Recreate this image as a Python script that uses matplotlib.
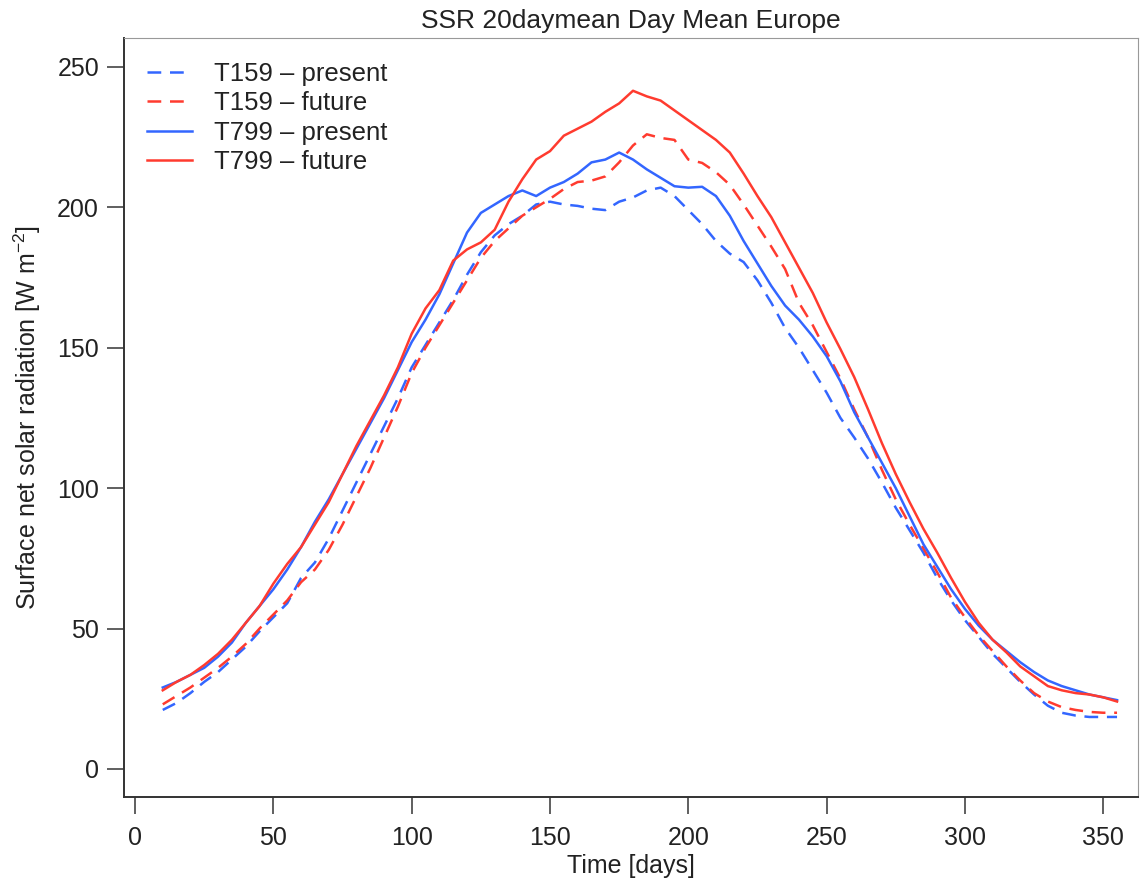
import numpy as np
import matplotlib
matplotlib.use('Agg')
import matplotlib.pyplot as plt

plt.rcParams['font.family'] = ['Liberation Sans', 'DejaVu Sans']
plt.rcParams['mathtext.default'] = 'regular'

days = np.arange(10, 356, 5)

t799_present = [29, 31, 33.5, 36, 40, 45, 52, 58, 64, 71,
                79, 88, 96, 105, 114, 123, 132, 142, 152, 160,
                169, 180, 191, 198, 201, 204, 206, 204, 207, 209,
                212, 216, 217, 219.5, 217, 213.5, 210.5, 207.5, 207, 207.3,
                204, 197, 188, 180, 172, 165, 160, 154, 147, 138,
                127, 118, 109, 100, 90, 80, 72, 64, 57, 51,
                46, 42, 38, 34.5, 31.5, 29.5, 28, 26.5, 25.5, 24.5]

t799_future = [28, 31, 33.5, 37, 41, 46, 52, 58, 66, 73,
               79, 87, 95, 105, 115, 124, 133, 143, 155, 164,
               170.5, 181, 185, 187.5, 192, 202, 210, 217, 220, 225.5,
               228, 230.5, 234, 237, 241.5, 239.5, 238, 234.5, 231, 227.5,
               224, 219.5, 212, 204, 196.5, 187.5, 178.5, 169.5, 159, 149.5,
               139.5, 128, 116, 105, 95, 85.5, 77, 68, 59.5, 52,
               46, 41.5, 36.5, 33, 29.5, 28, 27, 26.5, 25.5, 24]

t159_present = [21, 23.5, 27, 31, 34.5, 39, 43.5, 49, 54, 59,
                68, 73.5, 82, 92, 102, 112, 122, 132, 143, 151,
                159, 167, 176, 184, 190, 194, 197, 201, 202, 201,
                200.5, 199.5, 199, 202, 203.5, 206, 207, 204, 199, 194,
                188, 183.5, 180.5, 174, 166, 157, 150, 142, 134, 125,
                118, 110.5, 102, 93, 85, 77, 68, 60, 53, 47,
                41, 36, 31, 26.5, 22.5, 20, 19, 18.5, 18.5, 18.5]

t159_future = [23, 26, 29, 32.5, 36, 40, 44.5, 50, 55, 60,
               66.5, 71, 78, 87, 97, 107, 118, 129, 141, 150,
               158, 166, 174, 182, 188, 192.5, 197, 200, 203, 206.5,
               209, 209.5, 211, 216, 222, 226, 224.7, 224, 217, 215.8,
               212.5, 208, 201, 193.5, 186, 178, 166, 158, 148.5, 139,
               128, 118, 106.5, 96, 87, 78.5, 70, 61, 54, 47.5,
               42, 36.5, 31.5, 27, 24, 22, 21, 20.3, 20, 20]

blue = '#3366FF'
red = '#FF3B2F'
txt = '#222222'

fig = plt.figure(figsize=(11.4, 8.83), dpi=100)
ax = fig.add_axes([0.1088, 0.0974, 0.8895, 0.8596])

dash = (0, (5.5, 3.5))
ax.plot(days, t159_present, color=blue, lw=1.8, linestyle=dash, label='T159 – present')
ax.plot(days, t159_future, color=red, lw=1.8, linestyle=dash, label='T159 – future')
ax.plot(days, t799_present, color=blue, lw=1.8, label='T799 – present')
ax.plot(days, t799_future, color=red, lw=1.8, label='T799 – future')

ax.set_xlim(-4, 362.6)
ax.set_ylim(-10, 260.3)
ax.set_xticks(np.arange(0, 351, 50))
ax.set_yticks(np.arange(0, 251, 50))
ax.tick_params(direction='out', length=12, width=1.2, labelsize=18,
               colors='#444444', labelcolor=txt, pad=6)
ax.tick_params(axis='x', pad=9)

for side in ['top', 'right']:
    ax.spines[side].set_color('#999999')
for side in ['left', 'bottom']:
    ax.spines[side].set_color('#333333')
    ax.spines[side].set_linewidth(1.4)

ax.set_title('SSR 20daymean Day Mean Europe', fontsize=19, color=txt, pad=7)
ax.set_xlabel('Time [days]', fontsize=18, color=txt, labelpad=3)
ax.set_ylabel('Surface net solar radiation [W m$^{-2}$]', fontsize=18, color=txt, labelpad=10)

ax.legend(loc='upper left', bbox_to_anchor=(0.0227, 0.968), frameon=False,
          fontsize=18.5, handlelength=1.75, handletextpad=0.85, labelspacing=0.2,
          borderpad=0, borderaxespad=0, labelcolor=txt)

fig.savefig('out.png', dpi=100)
